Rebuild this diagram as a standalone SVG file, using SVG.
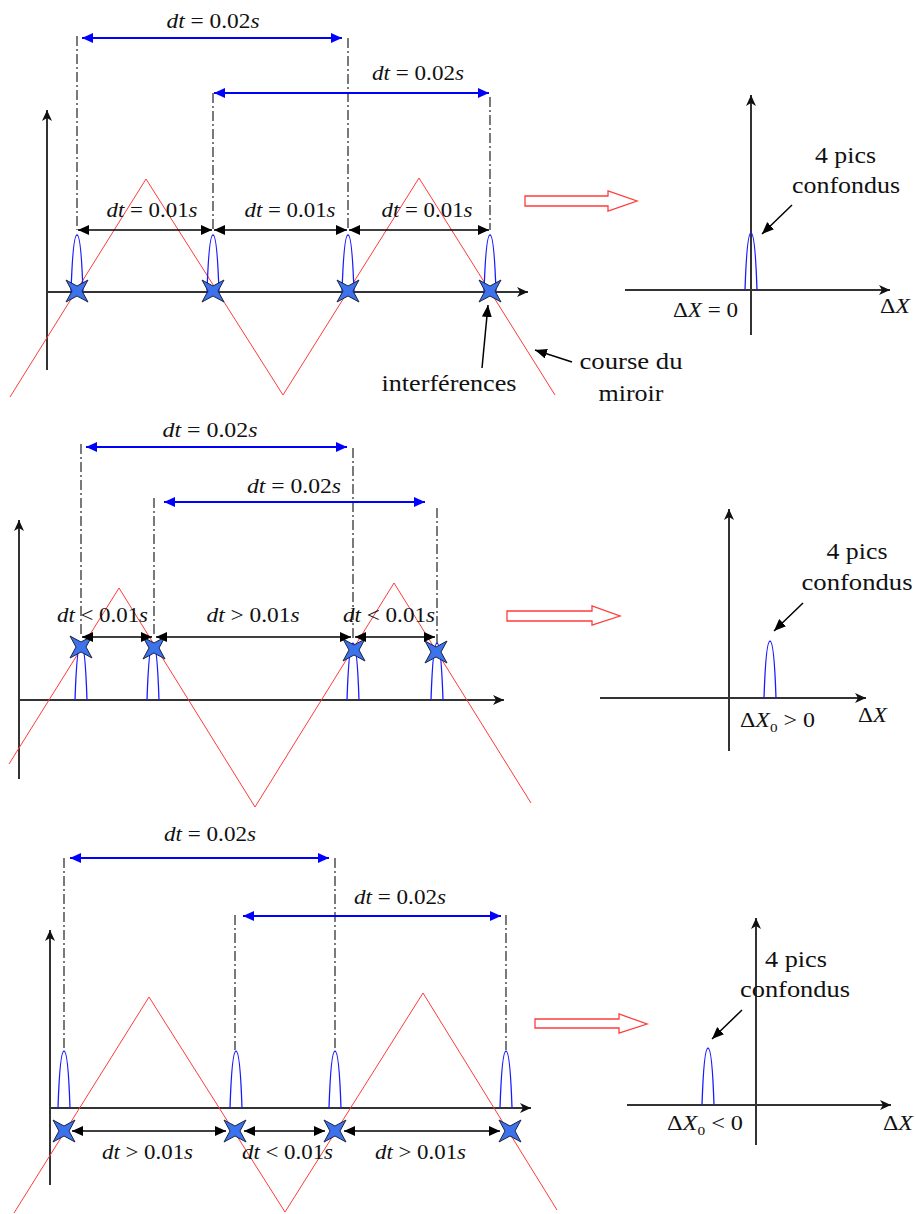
<svg xmlns="http://www.w3.org/2000/svg" xmlns:xlink="http://www.w3.org/1999/xlink" width="916" height="1214" viewBox="0 0 916 1214">
<style>
.ax{stroke:#333;stroke-width:2;fill:none;marker-end:url(#ah)}
.dd{stroke:#333;stroke-width:1.3;stroke-dasharray:10 3 2 3;fill:none}
.bl{stroke:#0000ff;stroke-width:2;fill:none;marker-start:url(#bh);marker-end:url(#bh)}
.db{stroke:#000;stroke-width:1.6;fill:none;marker-start:url(#kh);marker-end:url(#kh)}
.pt{stroke:#000;stroke-width:1.5;fill:none;marker-end:url(#ph)}
.wv{stroke:#ff3b3b;stroke-width:1;fill:none}
.pk{stroke:#1a1aff;stroke-width:1.3;fill:none}
.st{fill:#3c72ec;stroke:#1c2440;stroke-width:1}
.ho{fill:#fff;stroke:#ff3b3b;stroke-width:1.3}
text{font-family:"Liberation Serif","Times New Roman",serif;fill:#111}
.d{font-size:20.5px;text-anchor:middle}
.L{font-size:24px;text-anchor:middle}
.i{font-style:italic}
</style>
<defs>
<marker id="ah" markerUnits="userSpaceOnUse" markerWidth="12" markerHeight="10" refX="11" refY="5" orient="auto"><path d="M0,0 L11,5 L0,10 L3,5 Z" fill="#111"/></marker>
<marker id="bh" markerUnits="userSpaceOnUse" markerWidth="12" markerHeight="10" refX="11" refY="5" orient="auto-start-reverse"><path d="M0,0 L11,5 L0,10 Z" fill="#0000ff"/></marker>
<marker id="kh" markerUnits="userSpaceOnUse" markerWidth="12" markerHeight="10" refX="11" refY="5" orient="auto-start-reverse"><path d="M0,0 L11,5 L0,10 Z" fill="#000"/></marker>
<marker id="ph" markerUnits="userSpaceOnUse" markerWidth="13" markerHeight="10" refX="12" refY="5" orient="auto"><path d="M0,0 L12,5 L0,10 Z" fill="#000"/></marker>
<path id="pk" d="M-6,0 C-5,-30 -3,-57 0,-57 C3,-57 5,-30 6,0"/>
<path id="st" d="M-11,-11 L0,-5 L11,-11 L5,0 L11,11 L0,5 L-11,11 L-5,0 Z"/>
</defs>

<!-- ================= PANEL 1 ================= -->
<g id="panel1">
  <g id="p1-axes">
    <line class="ax" x1="47" y1="370" x2="47" y2="110"/>
    <line class="ax" x1="47" y1="292" x2="528" y2="292"/>
  </g>
  <polyline id="p1-wave" class="wv" points="10,397 146,179 283,395 419,178 555,395"/>
  <g id="p1-guides">
    <line class="dd" x1="77" y1="36" x2="77" y2="230"/>
    <line class="dd" x1="213" y1="93" x2="213" y2="230"/>
    <line class="dd" x1="348" y1="38" x2="348" y2="230"/>
    <line class="dd" x1="490" y1="97" x2="490" y2="230"/>
  </g>
  <g id="p1-peaks" class="pk">
    <use href="#pk" x="77" y="292"/><use href="#pk" x="213" y="292"/><use href="#pk" x="348" y="292"/><use href="#pk" x="490" y="292"/>
  </g>
  <g id="p1-stars" class="st">
    <use href="#st" x="77" y="291"/><use href="#st" x="213" y="291"/><use href="#st" x="348" y="291"/><use href="#st" x="490" y="291"/>
  </g>
  <g id="p1-labels">
    <text class="d" x="213" y="28" textLength="93" lengthAdjust="spacingAndGlyphs"><tspan class="i">dt</tspan> = 0.02<tspan class="i">s</tspan></text>
    <text class="d" x="418" y="80" textLength="92" lengthAdjust="spacingAndGlyphs"><tspan class="i">dt</tspan> = 0.02<tspan class="i">s</tspan></text>
    <text class="d" x="152" y="217" textLength="91" lengthAdjust="spacingAndGlyphs"><tspan class="i">dt</tspan> = 0.01<tspan class="i">s</tspan></text>
    <text class="d" x="290" y="217" textLength="91" lengthAdjust="spacingAndGlyphs"><tspan class="i">dt</tspan> = 0.01<tspan class="i">s</tspan></text>
    <text class="d" x="427" y="217" textLength="91" lengthAdjust="spacingAndGlyphs"><tspan class="i">dt</tspan> = 0.01<tspan class="i">s</tspan></text>
    <text class="L" x="449" y="391" textLength="135" lengthAdjust="spacingAndGlyphs">interférences</text>
    <text class="L" x="631" y="369" textLength="103" lengthAdjust="spacingAndGlyphs">course du</text>
    <text class="L" x="631" y="401" textLength="65" lengthAdjust="spacingAndGlyphs">miroir</text>
  </g>
  <path id="p1-big-arrow" class="ho" d="M525,196 L608,196 L608,191 L637,201 L608,211 L608,206 L525,206 Z"/>
  <g id="p1-spectrum">
    <line class="ax" x1="751" y1="335" x2="751" y2="95"/>
    <line class="ax" x1="625" y1="290" x2="890" y2="290"/>
    <use class="pk" href="#pk" x="751" y="290"/>
    <text class="L" x="845.5" y="163" textLength="61" lengthAdjust="spacingAndGlyphs">4 pics</text>
    <text class="L" x="846" y="193" textLength="108" lengthAdjust="spacingAndGlyphs">confondus</text>
    <text class="d" x="705.5" y="317" textLength="65" lengthAdjust="spacingAndGlyphs">Δ<tspan class="i">X</tspan> = 0</text>
    <text class="d" x="895" y="313" textLength="30" lengthAdjust="spacingAndGlyphs">Δ<tspan class="i">X</tspan></text>
  </g>
</g>

<!-- ================= PANEL 2 ================= -->
<g id="panel2">
  <g id="p2-axes">
    <line class="ax" x1="19" y1="779" x2="19" y2="520"/>
    <line class="ax" x1="18" y1="700" x2="504" y2="700"/>
  </g>
  <polyline id="p2-wave" class="wv" points="9,764 119,588 255,807 394,583 531,803"/>
  <g id="p2-guides">
    <line class="dd" x1="81" y1="444" x2="81" y2="637"/>
    <line class="dd" x1="154" y1="498" x2="154" y2="637"/>
    <line class="dd" x1="353" y1="448" x2="353" y2="640"/>
    <line class="dd" x1="437" y1="508" x2="437" y2="644"/>
  </g>
  <g id="p2-peaks" class="pk">
    <use href="#pk" x="81" y="700"/><use href="#pk" x="153" y="700"/><use href="#pk" x="353" y="700"/><use href="#pk" x="437" y="700"/>
  </g>
  <g id="p2-stars" class="st">
    <use href="#st" x="81" y="647"/><use href="#st" x="154" y="648"/><use href="#st" x="354" y="650"/><use href="#st" x="436" y="652"/>
  </g>
  <g id="p2-labels">
    <text class="d" x="210" y="437" textLength="95" lengthAdjust="spacingAndGlyphs"><tspan class="i">dt</tspan> = 0.02<tspan class="i">s</tspan></text>
    <text class="d" x="294" y="493" textLength="94" lengthAdjust="spacingAndGlyphs"><tspan class="i">dt</tspan> = 0.02<tspan class="i">s</tspan></text>
    <text class="d" x="102.5" y="622" textLength="91" lengthAdjust="spacingAndGlyphs"><tspan class="i">dt</tspan> &lt; 0.01<tspan class="i">s</tspan></text>
    <text class="d" x="253" y="622" textLength="93" lengthAdjust="spacingAndGlyphs"><tspan class="i">dt</tspan> &gt; 0.01<tspan class="i">s</tspan></text>
    <text class="d" x="389" y="622" textLength="92" lengthAdjust="spacingAndGlyphs"><tspan class="i">dt</tspan> &lt; 0.01<tspan class="i">s</tspan></text>
  </g>
  <path id="p2-big-arrow" class="ho" d="M507,611 L592,611 L592,606 L620,616 L592,625 L592,621 L507,621 Z"/>
  <g id="p2-spectrum">
    <line class="ax" x1="729" y1="751" x2="729" y2="509"/>
    <line class="ax" x1="600" y1="698" x2="866" y2="698"/>
    <use class="pk" href="#pk" x="770" y="698"/>
    <text class="L" x="857" y="559" textLength="61" lengthAdjust="spacingAndGlyphs">4 pics</text>
    <text class="L" x="857" y="590" textLength="111" lengthAdjust="spacingAndGlyphs">confondus</text>
    <text class="d" x="777.5" y="727" textLength="75" lengthAdjust="spacingAndGlyphs">Δ<tspan class="i">X</tspan><tspan font-size="13" dy="5">0</tspan><tspan dy="-5"> &gt; 0</tspan></text>
    <text class="d" x="872.5" y="722" textLength="29" lengthAdjust="spacingAndGlyphs">Δ<tspan class="i">X</tspan></text>
  </g>
</g>

<!-- ================= PANEL 3 ================= -->
<g id="panel3">
  <g id="p3-axes">
    <line class="ax" x1="50" y1="1185" x2="50" y2="930"/>
    <line class="ax" x1="50" y1="1108" x2="531" y2="1108"/>
  </g>
  <polyline id="p3-wave" class="wv" points="14,1213 149,997 285,1212 423,993 557,1210"/>
  <g id="p3-guides">
    <line class="dd" x1="64" y1="858" x2="64" y2="1050"/>
    <line class="dd" x1="235" y1="915" x2="235" y2="1050"/>
    <line class="dd" x1="335" y1="858" x2="335" y2="1050"/>
    <line class="dd" x1="506" y1="915" x2="506" y2="1050"/>
  </g>
  <g id="p3-peaks" class="pk">
    <use href="#pk" x="64" y="1108"/><use href="#pk" x="236" y="1108"/><use href="#pk" x="335" y="1108"/><use href="#pk" x="506" y="1108"/>
  </g>
  <g id="p3-stars" class="st">
    <use href="#st" x="64" y="1131"/><use href="#st" x="235" y="1131"/><use href="#st" x="335" y="1131"/><use href="#st" x="510" y="1131"/>
  </g>
  <g id="p3-labels">
    <text class="d" x="210" y="841" textLength="92" lengthAdjust="spacingAndGlyphs"><tspan class="i">dt</tspan> = 0.02<tspan class="i">s</tspan></text>
    <text class="d" x="400" y="904" textLength="92" lengthAdjust="spacingAndGlyphs"><tspan class="i">dt</tspan> = 0.02<tspan class="i">s</tspan></text>
    <text class="d" x="147.5" y="1159" textLength="91" lengthAdjust="spacingAndGlyphs"><tspan class="i">dt</tspan> &gt; 0.01<tspan class="i">s</tspan></text>
    <text class="d" x="287.5" y="1159" textLength="91" lengthAdjust="spacingAndGlyphs"><tspan class="i">dt</tspan> &lt; 0.01<tspan class="i">s</tspan></text>
    <text class="d" x="420.5" y="1159" textLength="91" lengthAdjust="spacingAndGlyphs"><tspan class="i">dt</tspan> &gt; 0.01<tspan class="i">s</tspan></text>
  </g>
  <path id="p3-big-arrow" class="ho" d="M535,1019 L619,1019 L619,1014 L647,1024 L619,1033 L619,1028 L535,1028 Z"/>
  <g id="p3-spectrum">
    <line class="ax" x1="756" y1="1145" x2="756" y2="918"/>
    <line class="ax" x1="627" y1="1105" x2="891" y2="1105"/>
    <use class="pk" href="#pk" x="708" y="1105"/>
    <text class="L" x="796" y="967" textLength="62" lengthAdjust="spacingAndGlyphs">4 pics</text>
    <text class="L" x="795" y="997" textLength="110" lengthAdjust="spacingAndGlyphs">confondus</text>
    <text class="d" x="705" y="1130" textLength="76" lengthAdjust="spacingAndGlyphs">Δ<tspan class="i">X</tspan><tspan font-size="13" dy="5">0</tspan><tspan dy="-5"> &lt; 0</tspan></text>
    <text class="d" x="898" y="1130" textLength="30" lengthAdjust="spacingAndGlyphs">Δ<tspan class="i">X</tspan></text>
  </g>
</g>

<!-- ================= CONNECTORS ================= -->
<g id="connectors">
  <line class="bl" x1="82" y1="38" x2="342" y2="38"/>
  <line class="bl" x1="214" y1="93" x2="489" y2="93"/>
  <line class="db" x1="78" y1="230" x2="212" y2="230"/>
  <line class="db" x1="214" y1="230" x2="347" y2="230"/>
  <line class="db" x1="349" y1="230" x2="489" y2="230"/>
  <line class="pt" x1="482" y1="368" x2="488" y2="305"/>
  <line class="pt" x1="572" y1="362" x2="535" y2="350"/>
  <line class="pt" x1="792" y1="205" x2="762" y2="234"/>

  <line class="bl" x1="86" y1="447" x2="347" y2="447"/>
  <line class="bl" x1="164" y1="502" x2="425" y2="502"/>
  <line class="db" x1="82" y1="637" x2="152" y2="637"/>
  <line class="db" x1="156" y1="637" x2="351" y2="637"/>
  <line class="db" x1="355" y1="637" x2="435" y2="637"/>
  <line class="pt" x1="803" y1="603" x2="774" y2="631"/>

  <line class="bl" x1="70" y1="858" x2="329" y2="858"/>
  <line class="bl" x1="243" y1="916" x2="501" y2="916"/>
  <line class="db" x1="72" y1="1131" x2="226" y2="1131"/>
  <line class="db" x1="244" y1="1131" x2="325" y2="1131"/>
  <line class="db" x1="344" y1="1131" x2="500" y2="1131"/>
  <line class="pt" x1="742" y1="1010" x2="712" y2="1039"/>
</g>
</svg>
